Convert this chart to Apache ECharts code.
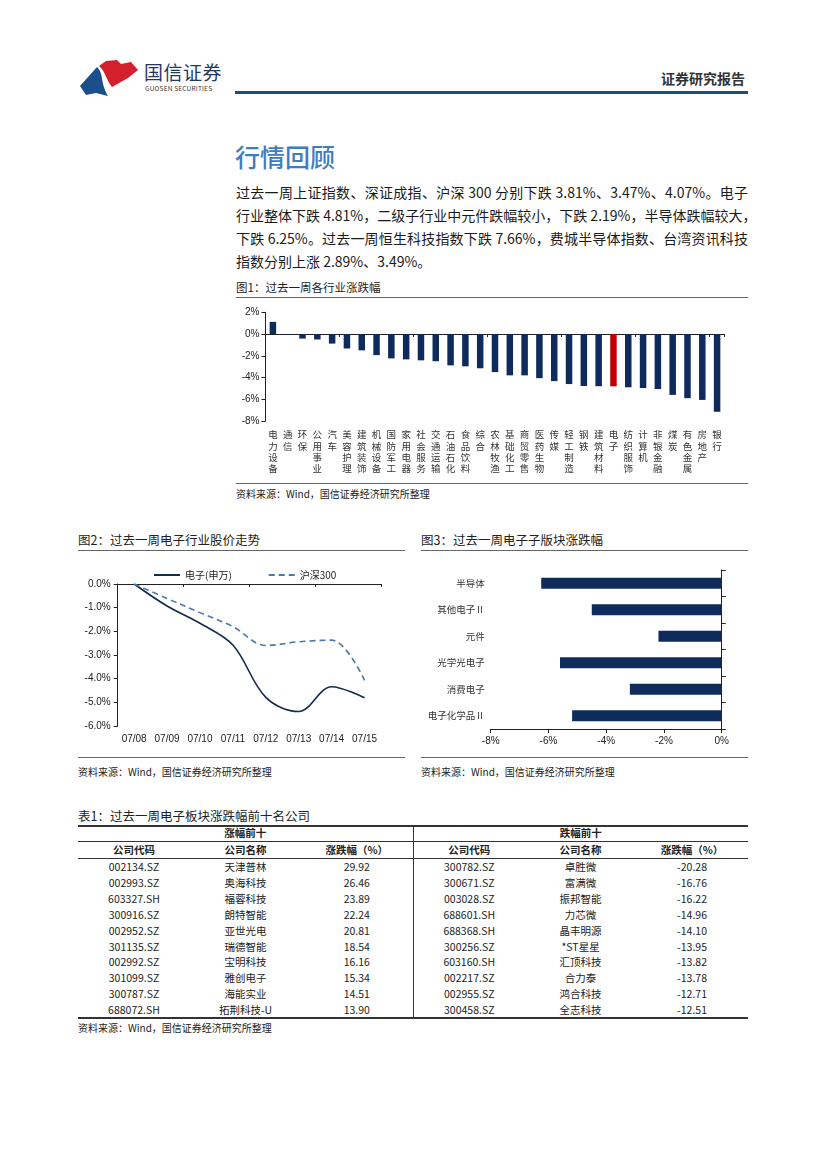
<!DOCTYPE html>
<html><head><meta charset="utf-8">
<script src="https://cdn.jsdelivr.net/npm/echarts@6/dist/echarts.min.js"></script>
<style>
html,body{margin:0;padding:0;background:#fff;}
body{width:827px;height:1169px;position:relative;overflow:hidden;font-family:"Noto Sans CJK SC","Liberation Sans",sans-serif;color:#222;}
.abs{position:absolute;}
.para{position:absolute;left:236px;width:512px;font-size:14px;line-height:20px;text-align:justify;text-align-last:justify;white-space:nowrap;color:#1a1a1a;}
.cap{position:absolute;font-size:12px;color:#222;line-height:16px;}
.src{position:absolute;font-size:10px;color:#222;line-height:12px;}
.hline{position:absolute;height:0;border-top:1px solid #666;}
table.t{position:absolute;left:78px;top:825px;width:670px;border-collapse:collapse;table-layout:fixed;font-size:10.5px;color:#222;}
table.t td{padding:0;text-align:center;height:15.9px;line-height:15.9px;white-space:nowrap;}
table.t tr.h1 td{height:16px;line-height:16px;font-weight:bold;border-bottom:1px solid #333;}
table.t tr.h2 td{height:16px;line-height:16px;font-weight:bold;border-bottom:1px solid #333;}
table.t td.div{border-right:1px solid #333;}
</style></head>
<body>
<!-- header -->
<svg class="abs" style="left:76px;top:56px" width="66" height="42" viewBox="76 56 66 42">
  <path d="M80,86 L97,67 C104,74 100,82 108,96 L96,93 L86,95 Z" fill="#1b4f8c"/>
  <path d="M99,66 L106,61 L117,60 L121,64 L131,62 L138,70 L128,78 L112,87 C106,80 106,72 99,66 Z" fill="#d41f2c"/>
</svg>
<div class="abs" style="left:144px;top:60px;font-size:19px;line-height:24px;color:#26375e;letter-spacing:0.5px;">国信证券</div>
<div class="abs" style="left:145px;top:84px;font-size:6.5px;line-height:8px;color:#333;letter-spacing:0.2px;">GUOSEN SECURITIES</div>
<div class="abs" style="left:661px;top:69px;font-size:14px;line-height:18px;font-weight:bold;color:#333;">证券研究报告</div>
<div class="abs" style="left:235px;top:91px;width:513px;height:2.5px;background:#1f4e79;"></div>

<div class="abs" style="left:235px;top:141px;font-size:25px;line-height:30px;color:#3f7dc0;font-weight:500;">行情回顾</div>

<div id="paraBox"></div>

<div class="cap" style="left:236px;top:279px;font-size:11.5px;">图1：过去一周各行业涨跌幅</div>
<div class="hline" style="left:236px;top:297px;width:512px;"></div>
<div id="c1" class="abs" style="left:236px;top:300px;width:512px;height:180px;"></div>
<div class="hline" style="left:236px;top:483px;width:512px;"></div>
<div class="src" style="left:236px;top:488px;">资料来源：Wind，国信证券经济研究所整理</div>

<div class="cap" style="left:78px;top:532px;font-size:12.5px;">图2：过去一周电子行业股价走势</div>
<div class="hline" style="left:78px;top:550px;width:327px;"></div>
<div id="c2" class="abs" style="left:78px;top:555px;width:330px;height:195px;"></div>
<div class="hline" style="left:78px;top:757px;width:327px;"></div>
<div class="src" style="left:78px;top:766px;">资料来源：Wind，国信证券经济研究所整理</div>

<div class="cap" style="left:421px;top:532px;font-size:12.5px;">图3：过去一周电子子版块涨跌幅</div>
<div class="hline" style="left:421px;top:550px;width:327px;"></div>
<div id="c3" class="abs" style="left:420px;top:555px;width:328px;height:200px;"></div>
<div class="hline" style="left:421px;top:757px;width:327px;"></div>
<div class="src" style="left:421px;top:766px;">资料来源：Wind，国信证券经济研究所整理</div>

<div class="cap" style="left:78px;top:808px;font-size:12.5px;">表1：过去一周电子板块涨跌幅前十名公司</div>
<div class="abs" style="left:78px;top:824.5px;width:670px;height:2px;background:#333;"></div>
<table class="t" id="tbl"></table>
<div class="abs" style="left:78px;top:1016.5px;width:670px;height:2px;background:#333;"></div>
<div class="src" style="left:78px;top:1022px;">资料来源：Wind，国信证券经济研究所整理</div>

<script>
// ---------- data ----------
const paragraphLines = [
  '过去一周上证指数、深证成指、沪深 300 分别下跌 3.81%、3.47%、4.07%。电子',
  '行业整体下跌 4.81%，二级子行业中元件跌幅较小，下跌 2.19%，半导体跌幅较大，',
  '下跌 6.25%。过去一周恒生科技指数下跌 7.66%，费城半导体指数、台湾资讯科技',
  '指数分别上涨 2.89%、3.49%。'
];
const industries = ['电力设备','通信','环保','公用事业','汽车','美容护理','建筑装饰','机械设备','国防军工','家用电器','社会服务','交通运输','石油石化','食品饮料','综合','农林牧渔','基础化工','商贸零售','医药生物','传媒','轻工制造','钢铁','建筑材料','电子','纺织服饰','计算机','非银金融','煤炭','有色金属','房地产','银行'];
const industryChange = [1.12,-0.05,-0.42,-0.5,-0.88,-1.33,-1.5,-1.94,-2.24,-2.33,-2.42,-2.5,-2.88,-2.97,-3.15,-3.5,-3.8,-3.8,-4.06,-4.33,-4.6,-4.78,-4.8,-4.81,-4.9,-4.97,-5.06,-5.6,-5.9,-6.06,-7.15];
const highlightIndustry = '电子';
const pctTicks1 = {min:-8,max:2,interval:2};

const dates = ['07/08','07/09','07/10','07/11','07/12','07/13','07/14','07/15'];
const elecIndex = [0,-0.93,-1.66,-2.58,-4.79,-5.39,-4.34,-4.81];
const hs300 = [0,-0.61,-1.21,-1.8,-2.6,-2.44,-2.37,-4.07];
const seriesNames2 = ['电子(申万)','沪深300'];

const subSectors = ['半导体','其他电子Ⅱ','元件','光学光电子','消费电子','电子化学品Ⅱ'];
const subChange = [-6.25,-4.5,-2.19,-5.6,-3.18,-5.18];

const tableHeaders = ['公司代码','公司名称','涨跌幅（%）'];
const gainCodes = ['002134.SZ','002993.SZ','603327.SH','300916.SZ','002952.SZ','301135.SZ','002992.SZ','301099.SZ','300787.SZ','688072.SH'];
const gainNames = ['天津普林','奥海科技','福蓉科技','朗特智能','亚世光电','瑞德智能','宝明科技','雅创电子','海能实业','拓荆科技-U'];
const gainValues = ['29.92','26.46','23.89','22.24','20.81','18.54','16.16','15.34','14.51','13.90'];
const lossCodes = ['300782.SZ','300671.SZ','003028.SZ','688601.SH','688368.SH','300256.SZ','603160.SH','002217.SZ','002955.SZ','300458.SZ'];
const lossNames = ['卓胜微','富满微','振邦智能','力芯微','晶丰明源','*ST星星','汇顶科技','合力泰','鸿合科技','全志科技'];
const lossValues = ['-20.28','-16.76','-16.22','-14.96','-14.10','-13.95','-13.82','-13.78','-12.71','-12.51'];

// ---------- text ----------
const pb = document.getElementById('paraBox');
paragraphLines.forEach((t,i)=>{
  const d = document.createElement('div');
  d.className='para';
  d.style.top = (182 + i*23) + 'px';
  d.textContent = t;
  if(i===paragraphLines.length-1){d.style.textAlignLast='left';}
  pb.appendChild(d);
});

// ---------- table ----------
(function(){
  const tb = document.getElementById('tbl');
  let html = '<colgroup><col style="width:112px"><col style="width:111px"><col style="width:112px"><col style="width:112px"><col style="width:111px"><col style="width:112px"></colgroup>';
  html += '<tr class="h1"><td colspan="3" class="div">涨幅前十</td><td colspan="3">跌幅前十</td></tr>';
  html += '<tr class="h2">' + tableHeaders.map((h,i)=>'<td'+(i===2?' class="div"':'')+'>'+h+'</td>').join('') + tableHeaders.map(h=>'<td>'+h+'</td>').join('') + '</tr>';
  for(let i=0;i<gainCodes.length;i++){
    html += '<tr><td>'+gainCodes[i]+'</td><td>'+gainNames[i]+'</td><td class="div">'+gainValues[i]+'</td><td>'+lossCodes[i]+'</td><td>'+lossNames[i]+'</td><td>'+lossValues[i]+'</td></tr>';
  }
  tb.innerHTML = html;
})();

const FONT = '"Liberation Sans","Noto Sans CJK SC",sans-serif';
const NAVY = '#0e2b5c';

// ---------- chart 1 ----------
const c1 = echarts.init(document.getElementById('c1'), null, {renderer:'canvas'});
c1.setOption({
  animation:false,
  textStyle:{fontFamily:FONT},
  grid:{left:29.5,top:12.3,width:459,height:108.7},
  xAxis:[
    {type:'category',data:industries,axisLine:{onZero:true,lineStyle:{color:'#222',width:1}},
     axisTick:{show:true,length:3,lineStyle:{color:'#222'}},axisLabel:{show:false}},
    {type:'category',data:industries,position:'bottom',axisLine:{show:false,onZero:false},axisTick:{show:false},
     axisLabel:{show:true,interval:0,margin:8,fontSize:9.5,lineHeight:11.3,color:'#333',verticalAlign:'top',
       fontFamily:'"Noto Sans CJK SC",sans-serif',formatter:v=>v.split('').join('\n')}}
  ],
  yAxis:{type:'value',min:pctTicks1.min,max:pctTicks1.max,interval:pctTicks1.interval,
    axisLine:{show:true,lineStyle:{color:'#222'}},axisTick:{show:true,length:4,lineStyle:{color:'#222'}},
    splitLine:{show:false},axisLabel:{fontSize:10,color:'#222',margin:6,formatter:v=>v+'%'}},
  series:[{type:'bar',xAxisIndex:0,barWidth:6.5,
    data:industryChange.map((v,i)=>({value:v,itemStyle:{color:industries[i]===highlightIndustry?'#c00000':NAVY}}))}]
});

// ---------- chart 2 ----------
const c2 = echarts.init(document.getElementById('c2'));
c2.setOption({
  animation:false,
  textStyle:{fontFamily:FONT},
  legend:{top:15,left:75,padding:0,itemWidth:26,itemHeight:10,itemGap:36,
    itemStyle:{opacity:0,borderWidth:0},
    textStyle:{fontSize:10,color:'#222',fontFamily:'"Noto Sans CJK SC",sans-serif'},
    data:seriesNames2},
  grid:{left:39.7,top:29,right:27,bottom:24},
  xAxis:[
    {type:'category',data:dates,boundaryGap:true,axisLine:{onZero:true,lineStyle:{color:'#222'}},
     axisTick:{show:true,length:3,inside:false,lineStyle:{color:'#222'}},axisLabel:{show:false}},
    {type:'category',data:dates,position:'bottom',axisLine:{show:false,onZero:false},axisTick:{show:false},
     axisLabel:{show:true,interval:0,margin:8,fontSize:10,color:'#222'}}
  ],
  yAxis:{type:'value',min:-6,max:0,interval:1,axisLine:{show:true,lineStyle:{color:'#222'}},
    axisTick:{show:true,length:4,lineStyle:{color:'#222'}},splitLine:{show:false},
    axisLabel:{fontSize:10,color:'#222',margin:7,formatter:v=>v.toFixed(1)+'%'}},
  series:[
    {name:seriesNames2[0],type:'line',xAxisIndex:0,data:elecIndex,smooth:0.35,symbol:'none',showSymbol:false,
     lineStyle:{color:'#13294f',width:1.6},itemStyle:{color:'#13294f'}},
    {name:seriesNames2[1],type:'line',xAxisIndex:0,data:hs300,smooth:0.35,symbol:'none',showSymbol:false,
     lineStyle:{color:'#4b79ab',width:1.6,type:[6,4]},itemStyle:{color:'#4b79ab'}}
  ]
});

// ---------- chart 3 ----------
const c3 = echarts.init(document.getElementById('c3'));
c3.setOption({
  animation:false,
  textStyle:{fontFamily:FONT},
  grid:{left:70.7,right:26.3,top:15,bottom:26},
  xAxis:{type:'value',min:-8,max:0,interval:2,axisLine:{show:true,onZero:false,lineStyle:{color:'#222'}},
    axisTick:{show:true,length:4,lineStyle:{color:'#222'}},splitLine:{show:false},
    axisLabel:{fontSize:10,color:'#222',margin:7,formatter:v=>v+'%'}},
  yAxis:[
    {type:'category',data:subSectors,inverse:true,axisLine:{onZero:true,lineStyle:{color:'#222'}},
     axisTick:{show:true,inside:true,length:4,lineStyle:{color:'#222'}},axisLabel:{show:false}},
    {type:'category',data:subSectors,inverse:true,position:'left',axisLine:{show:false,onZero:false},axisTick:{show:false},
     axisLabel:{show:true,margin:6,fontSize:9.5,color:'#333',fontFamily:'"Noto Sans CJK SC",sans-serif'}}
  ],
  series:[{type:'bar',yAxisIndex:0,data:subChange,barWidth:11,itemStyle:{color:NAVY}}]
});
</script>
</body></html>
